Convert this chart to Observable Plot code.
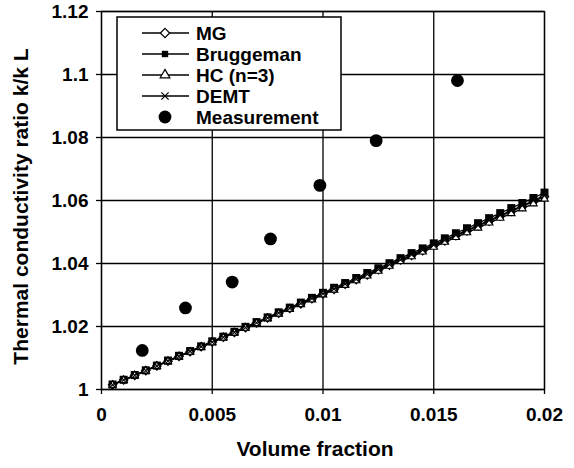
<!DOCTYPE html>
<html>
<head>
<meta charset="utf-8">
<script src="https://cdn.jsdelivr.net/npm/d3@7"></script>
<script src="https://cdn.jsdelivr.net/npm/@observablehq/plot@0.6"></script>
<style>
  html, body { margin: 0; padding: 0; background: #fff; }
  #wrap { position: relative; width: 574px; height: 468px; }
  #legend { position: absolute; left: 116px; top: 16px; }
</style>
</head>
<body>
<div id="wrap"></div>
<script>
// Volume fraction values for model curves
const phi = [0.0005,0.001,0.0015,0.002,0.0025,0.003,0.0035,0.004,0.0045,0.005,
  0.0055,0.006,0.0065,0.007,0.0075,0.008,0.0085,0.009,0.0095,0.01,
  0.0105,0.011,0.0115,0.012,0.0125,0.013,0.0135,0.014,0.0145,0.015,
  0.0155,0.016,0.0165,0.017,0.0175,0.018,0.0185,0.019,0.0195,0.02];
const mg = [1.0015,1.0030,1.0045,1.0060,1.0075,1.0090,1.0105,1.0120,1.0136,1.0151,
  1.0166,1.0181,1.0196,1.0211,1.0227,1.0242,1.0257,1.0272,1.0288,1.0303,
  1.0318,1.0334,1.0349,1.0364,1.0380,1.0395,1.0411,1.0426,1.0441,1.0457,
  1.0472,1.0488,1.0503,1.0519,1.0534,1.0550,1.0565,1.0581,1.0597,1.0612];
const bruggeman = [1.0016,1.0031,1.0046,1.0061,1.0076,1.0092,1.0107,1.0122,1.0137,1.0153,
  1.0168,1.0183,1.0199,1.0214,1.0229,1.0245,1.0260,1.0276,1.0291,1.0307,
  1.0323,1.0338,1.0354,1.0370,1.0385,1.0401,1.0417,1.0433,1.0448,1.0464,
  1.0480,1.0496,1.0512,1.0528,1.0544,1.0560,1.0576,1.0592,1.0608,1.0625];
const hc = [1.0014,1.0029,1.0044,1.0059,1.0074,1.0089,1.0104,1.0119,1.0134,1.0149,
  1.0164,1.0180,1.0195,1.0210,1.0225,1.0240,1.0255,1.0270,1.0285,1.0301,
  1.0316,1.0331,1.0346,1.0361,1.0376,1.0392,1.0407,1.0422,1.0437,1.0452,
  1.0468,1.0483,1.0498,1.0513,1.0529,1.0544,1.0559,1.0574,1.0590,1.0605];
const demt = [1.0015,1.0030,1.0045,1.0060,1.0075,1.0090,1.0105,1.0121,1.0136,1.0151,
  1.0166,1.0182,1.0197,1.0212,1.0227,1.0243,1.0258,1.0273,1.0289,1.0304,
  1.0319,1.0335,1.0350,1.0366,1.0381,1.0397,1.0412,1.0428,1.0443,1.0459,
  1.0474,1.0490,1.0506,1.0521,1.0537,1.0553,1.0568,1.0584,1.0600,1.0616];
// Measurements
const measPhi = [0.00184,0.00379,0.0059,0.00763,0.00986,0.0124,0.01607];
const measK   = [1.0124,1.0259,1.0341,1.0478,1.0648,1.0790,1.0981];
// Ticks
const xTicks = [0,0.005,0.01,0.015,0.02];
const yTicks = [1,1.02,1.04,1.06,1.08,1.1,1.12];
const seriesNames = ["MG","Bruggeman","HC (n=3)","DEMT","Measurement"];

const fmt = d => String(+d.toFixed(4));
const font = "'Liberation Sans', Arial, sans-serif";

const mk = arr => phi.map((p, i) => ({x: p, y: arr[i]}));
const dMG = mk(mg), dBr = mk(bruggeman), dHC = mk(hc), dDE = mk(demt);
const dMeas = measPhi.map((p, i) => ({x: p, y: measK[i]}));

const chart = Plot.plot({
  width: 574,
  height: 468,
  marginLeft: 101,
  marginRight: 30,
  marginTop: 11,
  marginBottom: 79,
  style: {fontFamily: font, fontSize: "19px", fontWeight: "bold", background: "white", color: "black", overflow: "visible"},
  x: {domain: [0, 0.02]},
  y: {domain: [1, 1.12]},
  marks: [
    Plot.gridX(xTicks, {stroke: "black", strokeOpacity: 1, strokeWidth: 1.3}),
    Plot.gridY(yTicks, {stroke: "black", strokeOpacity: 1, strokeWidth: 1.3}),
    Plot.frame({stroke: "black", strokeWidth: 1.3}),
    Plot.axisX({ticks: xTicks, tickFormat: fmt, tickSize: 5, tickPadding: 13, label: null, strokeWidth: 1.3}),
    Plot.axisY({ticks: yTicks, tickFormat: fmt, tickSize: 5, tickPadding: 8, label: null, strokeWidth: 1.3}),
    Plot.line(dMG, {x: "x", y: "y", stroke: "black", strokeWidth: 1.3}),
    Plot.line(dBr, {x: "x", y: "y", stroke: "black", strokeWidth: 1.3}),
    Plot.line(dHC, {x: "x", y: "y", stroke: "black", strokeWidth: 1.3}),
    Plot.line(dDE, {x: "x", y: "y", stroke: "black", strokeWidth: 1.3}),
    Plot.dot(dMG, {x: "x", y: "y", symbol: "diamond2", r: 3.8, fill: "white", stroke: "black", strokeWidth: 1.2}),
    Plot.dot(dBr, {x: "x", y: "y", symbol: "square", r: 4.5, fill: "black", stroke: "none"}),
    Plot.dot(dHC, {x: "x", y: "y", symbol: "triangle", r: 2.8, fill: "white", stroke: "black", strokeWidth: 1.1}),
    Plot.dot(dDE, {x: "x", y: "y", symbol: "times", r: 3.2, stroke: "black", strokeWidth: 1.1}),
    Plot.dot(dMeas, {x: "x", y: "y", r: 6.4, fill: "black", stroke: "none"})
  ]
});

const wrap = document.getElementById("wrap");
wrap.appendChild(chart);

// Axis titles
const svg = d3.select(chart);
svg.append("text")
  .attr("x", 315).attr("y", 456)
  .attr("text-anchor", "middle")
  .style("font-family", font).style("font-size", "21px").style("font-weight", "bold")
  .text("Volume fraction");
svg.append("text")
  .attr("transform", "translate(28,206.5) rotate(-90)")
  .attr("text-anchor", "middle")
  .style("font-family", font).style("font-size", "21px").style("font-weight", "bold")
  .text("Thermal conductivity ratio k/k L");

// Legend (inside plot area)
const lw = 225, lh = 114;
const leg = d3.select(wrap).append("svg")
  .attr("id", "legend")
  .attr("width", lw + 2).attr("height", lh + 2);
leg.append("rect").attr("x", 1).attr("y", 1).attr("width", lw - 1).attr("height", lh - 1)
  .attr("fill", "white").attr("stroke", "black").attr("stroke-width", 1.5);
const sym = [
  {t: d3.symbolDiamond2, r: 4.2, fill: "white", stroke: "black", line: true},
  {t: d3.symbolSquare, r: 3.6, fill: "black", stroke: "none", line: true},
  {t: d3.symbolTriangle, r: 3.6, fill: "white", stroke: "black", line: true},
  {t: d3.symbolTimes, r: 3.4, fill: "none", stroke: "black", line: true},
  {t: d3.symbolCircle, r: 6.4, fill: "black", stroke: "none", line: false}
];
seriesNames.forEach((name, i) => {
  const cy = 17 + i * 21;
  const g = leg.append("g");
  if (sym[i].line) {
    g.append("line").attr("x1", 26).attr("x2", 73).attr("y1", cy).attr("y2", cy)
      .attr("stroke", "black").attr("stroke-width", 1.3);
  }
  g.append("path")
    .attr("d", d3.symbol(sym[i].t, Math.PI * sym[i].r * sym[i].r)())
    .attr("transform", `translate(49,${cy})`)
    .attr("fill", sym[i].fill).attr("stroke", sym[i].stroke).attr("stroke-width", 1.2);
  g.append("text").attr("x", 80).attr("y", cy + 7)
    .style("font-family", font).style("font-size", "19px").style("font-weight", "bold")
    .text(name);
});
</script>
</body>
</html>
